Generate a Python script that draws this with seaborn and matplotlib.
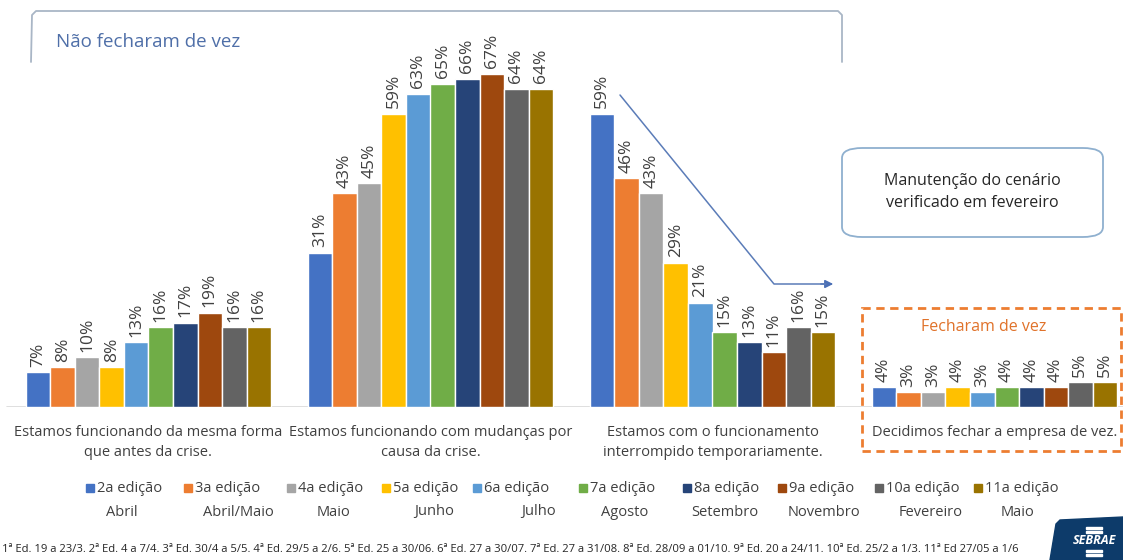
import matplotlib
matplotlib.use("Agg")
import matplotlib.pyplot as plt
import seaborn as sns
import pandas as pd
from matplotlib.patches import FancyBboxPatch, Rectangle, Polygon, FancyArrowPatch
from matplotlib.lines import Line2D

# ---- data -------------------------------------------------------------
categorias = [
    "Estamos funcionando da mesma forma\nque antes da crise.",
    "Estamos funcionando com mudanças por\ncausa da crise.",
    "Estamos com o funcionamento\ninterrompido temporariamente.",
    "Decidimos fechar a empresa de vez.",
]
edicoes = ["2a edição", "3a edição", "4a edição", "5a edição", "6a edição",
           "7a edição", "8a edição", "9a edição", "10a edição", "11a edição"]
meses = ["Abril", "Abril/Maio", "Maio", "Junho", "Julho",
         "Agosto", "Setembro", "Novembro", "Fevereiro", "Maio"]

mesma_forma = [7, 8, 10, 8, 13, 16, 17, 19, 16, 16]
com_mudancas = [31, 43, 45, 59, 63, 65, 66, 67, 64, 64]
interrompido = [59, 46, 43, 29, 21, 15, 13, 11, 16, 15]
fechou = [4, 3, 3, 4, 3, 4, 4, 4, 5, 5]

cores = ["#4472C4", "#ED7D31", "#A5A5A5", "#FFC000", "#5B9BD5",
         "#70AD47", "#264478", "#9E480E", "#636363", "#997300"]

nota = ("1ª Ed. 19 a 23/3. 2ª Ed. 4 a 7/4. 3ª Ed. 30/4 a 5/5. 4ª Ed. 29/5 a 2/6. "
        "5ª Ed. 25 a 30/06. 6ª Ed. 27 a 30/07. 7ª Ed. 27 a 31/08. 8ª Ed. 28/09 a 01/10. "
        "9ª Ed. 20 a 24/11. 10ª Ed. 25/2 a 1/3. 11ª Ed 27/05 a 1/6")

# ---- long table ---------------------------------------------------------
series = [mesma_forma, com_mudancas, interrompido, fechou]
linhas = []
for cat, vals in zip(categorias, series):
    for ed, v in zip(edicoes, vals):
        linhas.append({"categoria": cat, "edicao": ed, "valor": v})
df = pd.DataFrame(linhas)

sns.set_theme(style="white")
plt.rcParams["font.family"] = ["Open Sans", "DejaVu Sans"]

W, H = 1123, 560
fig = plt.figure(figsize=(W / 100, H / 100), dpi=100)
fig.patch.set_facecolor("white")


def fx(px):
    return px / W


def fy(py):
    return 1 - py / H


base_px = 407
ax = fig.add_axes([0, fy(base_px), 1, base_px / H])
ax.set_facecolor("none")

sns.barplot(data=df, x="categoria", y="valor", hue="edicao",
            order=categorias, hue_order=edicoes, palette=cores,
            width=0.87, saturation=1, dodge=True, legend=False, ax=ax)

ax.set_xlim((0 - 148.5) / 282, (W - 148.5) / 282)
ax.set_ylim(0, base_px / 4.97)
for s in ax.spines.values():
    s.set_visible(False)
ax.set_yticks([])
ax.set_xlabel("")
ax.set_ylabel("")
ax.axhline(0, xmin=7 / W, xmax=1, color="#d9d9d9", lw=1.2, zorder=0)
ax.tick_params(axis="x", length=0, pad=13, labelsize=10.5, labelcolor="#404040")
for t in ax.get_xticklabels():
    t.set_linespacing(1.45)
    t.set_multialignment("center")

for cont in ax.containers:
    labels = [f"{b.get_height():.0f}%" for b in cont]
    ax.bar_label(cont, labels=labels, rotation=90, padding=4,
                 fontsize=12.5, color="#404040")

# ---- annotations ------------------------------------------------------
# bracket over the groups that kept operating
bracket = Line2D([fx(31), fx(32), fx(36), fx(838), fx(842), fx(842)],
                 [fy(62), fy(15), fy(11), fy(11), fy(15), fy(62)],
                 transform=fig.transFigure, color="#a9b6c6", lw=1.3)
fig.add_artist(bracket)
fig.text(fx(56), fy(42), "Não fecharam de vez", fontsize=13.5,
         color="#4f6fa8", va="center", ha="left")

# descending trend arrow
trend = Line2D([fx(620), fx(774), fx(826)], [fy(95), fy(284), fy(284)],
               transform=fig.transFigure, color="#5b7cb8", lw=1.1)
fig.add_artist(trend)
head = FancyArrowPatch((fx(818), fy(284)), (fx(836), fy(284)),
                       transform=fig.transFigure, arrowstyle="-|>",
                       mutation_scale=12, color="#4a6fb5", lw=1.1)
fig.add_artist(head)

# callout box
caixa = FancyBboxPatch((fx(842), fy(237)), fx(1103) - fx(842), fy(148) - fy(237),
                       boxstyle="round,pad=0,rounding_size=0.018",
                       transform=fig.transFigure, facecolor="white",
                       edgecolor="#8fb0cf", lw=1.3)
fig.add_artist(caixa)
fig.text(fx(972), fy(192), "Manutenção do cenário\nverificado em fevereiro",
         ha="center", va="center", fontsize=11.5, color="#262626",
         linespacing=1.55)

# dashed frame around closed companies
quadro = Rectangle((fx(862), fy(451)), fx(1121) - fx(862), fy(308) - fy(451),
                   transform=fig.transFigure, fill=False,
                   edgecolor="#ED7D31", lw=2, linestyle=(0, (3, 2)))
fig.add_artist(quadro)
fig.text(fx(984), fy(327), "Fecharam de vez", ha="center", va="center",
         fontsize=11.5, color="#E0722A")

# ---- legend -----------------------------------------------------------
pos_quadrado = [86, 184, 287, 382, 473, 579, 683, 778, 875, 974]
pos_mes = [122, 238, 333, 434, 538, 625, 725, 824, 931, 1018]
for ed, mes, cor, xq, xm in zip(edicoes, meses, cores, pos_quadrado, pos_mes):
    fig.add_artist(Rectangle((fx(xq), fy(492)), fx(8), 8 / H,
                             transform=fig.transFigure, color=cor))
    fig.text(fx(xq + 11), fy(488), ed, ha="left", va="center",
             fontsize=10.5, color="#404040")
    fig.text(fx(xm), fy(512), mes, ha="center", va="center",
             fontsize=10.5, color="#404040")

fig.text(fx(2), fy(549), nota, ha="left", va="center", fontsize=8.1,
         color="#262626")

# ---- logo -------------------------------------------------------------
logo = Polygon([(fx(1056), fy(524)), (fx(1060), fy(520)), (fx(1123), fy(517)),
                (fx(1123), fy(560)), (fx(1050), fy(560))],
               closed=True, transform=fig.transFigure, color="#0d3b6a")
fig.add_artist(logo)
for yy in (527, 531, 550, 554):
    fig.add_artist(Rectangle((fx(1086), fy(yy + 1.5)), fx(16), 2 / H,
                             transform=fig.transFigure, color="white"))
fig.text(fx(1094), fy(540), "SEBRAE", ha="center", va="center", fontsize=9,
         color="white", fontweight="bold", fontstyle="italic")

fig.savefig("out.png", dpi=100, facecolor="white")
